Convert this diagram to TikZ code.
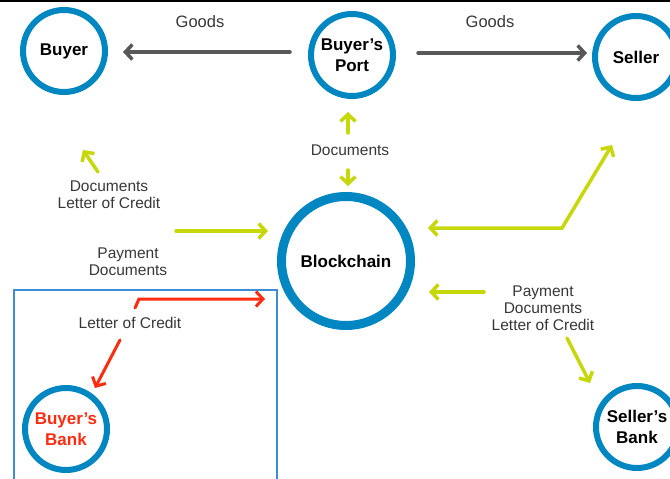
\documentclass[tikz,border=0pt]{standalone}
\usepackage{fontspec}
\setmainfont{Liberation Sans}
\usetikzlibrary{arrows.meta,positioning}

\definecolor{chainblue}{RGB}{0,134,192}
\definecolor{boxblue}{RGB}{62,140,210}
\definecolor{lime}{RGB}{198,216,10}
\definecolor{locred}{RGB}{255,45,15}
\definecolor{goodsgray}{RGB}{88,88,88}
\definecolor{labelgray}{RGB}{55,55,55}

\begin{document}
\begin{tikzpicture}[
	x = 1pt, y = -1pt, % pixel grid, y going down
	> = {Straight Barb[length=7pt,width=15pt]}, % arrow head style
	line cap = round,
	party/.style={circle, draw=chainblue, line width=6pt, minimum size=82pt, inner sep=0pt, align=center, font=\fontsize{17}{21}\selectfont\bfseries},  %blue ring
	hub/.style={party, line width=9pt, minimum size=129pt},
	lbl/.style={align=center, inner sep=0pt, text=labelgray, font=\fontsize{15.5}{17}\selectfont},
	goods/.style={->, line width=3.5pt, draw=goodsgray},
	flow/.style={->, line width=3.5pt, draw=lime},
	loc/.style={->, line width=3pt, draw=locred},
	]
	\useasboundingbox (0,0) rectangle (670,479);
	\draw[line width=1.5pt] (0,0.75) -- (670,0.75);

	% Parties
	% Nodes and their positions
	\node[party] (buyer) at (64,51) {Buyer};
	\node[party] (port) at (352,55) {Buyer’s\\Port};
	\node[party] (seller) at (636,57) {Seller};
	\node[hub] (chain) at (346,261) {Blockchain};
	\node[party, text=locred] (bbank) at (66,429) {Buyer’s\\Bank};
	\node[party] (sbank) at (637,427) {Seller’s\\Bank};

	% Buyer's bank frame
	\draw[boxblue, line width=2pt] (14,290) rectangle (277,482);

	% Labels
	\node[lbl, font=\fontsize{16.5}{18}\selectfont] (goodsL) at (200,22) {Goods};
	\node[lbl, font=\fontsize{16.5}{18}\selectfont] (goodsR) at (490,22) {Goods};
	\node[lbl] (docs) at (350,150) {Documents};
	\node[lbl] (docsLC) at (109,195) {Documents\\Letter of Credit};
	\node[lbl] (payDocs) at (128,262) {Payment\\Documents};
	\node[lbl] (lc) at (130,323) {Letter of Credit};
	\node[lbl] (payDocsLC) at (543,308) {Payment\\Documents\\Letter of Credit};

	% Arrow ends
	\coordinate (docsUp) at (348,133);
	\coordinate (docsDown) at (348,170);
	\coordinate (sellerBend) at (562,228);
	\coordinate (buyerTail) at (98,172);
	\coordinate (chainInL) at (176,231);
	\coordinate (chainInR) at (484,292);
	\coordinate (sbankTail) at (567,338);
	\coordinate (lcUp) at (135,308);
	\coordinate (lcBend) at (139,299);
	\coordinate (lcDown) at (120,340);

	% Paths connecting nodes
	\draw[goods] ([shift={(-18pt,3pt)}]port.west) -- ([shift={(15pt,3pt)}]port.west -| buyer.east);
	\draw[goods] ([shift={(22pt,2pt)}]port.east) -- ([shift={(-5pt,2pt)}]port.east -| seller.west);
	\draw[flow] (docsUp) -- (348,112);
	\draw[flow] (docsDown) -- (348,186);
	\draw[flow, <->] (428,228) -- (sellerBend) -- (612,145);
	\draw[flow] (buyerTail) -- (83,150);
	\draw[flow] (chainInL) -- (268,231);
	\draw[flow] (chainInR) -- (429,292);
	\draw[flow] (sbankTail) -- (590,383);
	\draw[loc] (lcUp) -- (lcBend) -- (265,299);
	\draw[loc] (lcDown) -- (95,388);
\end{tikzpicture}
\end{document}
